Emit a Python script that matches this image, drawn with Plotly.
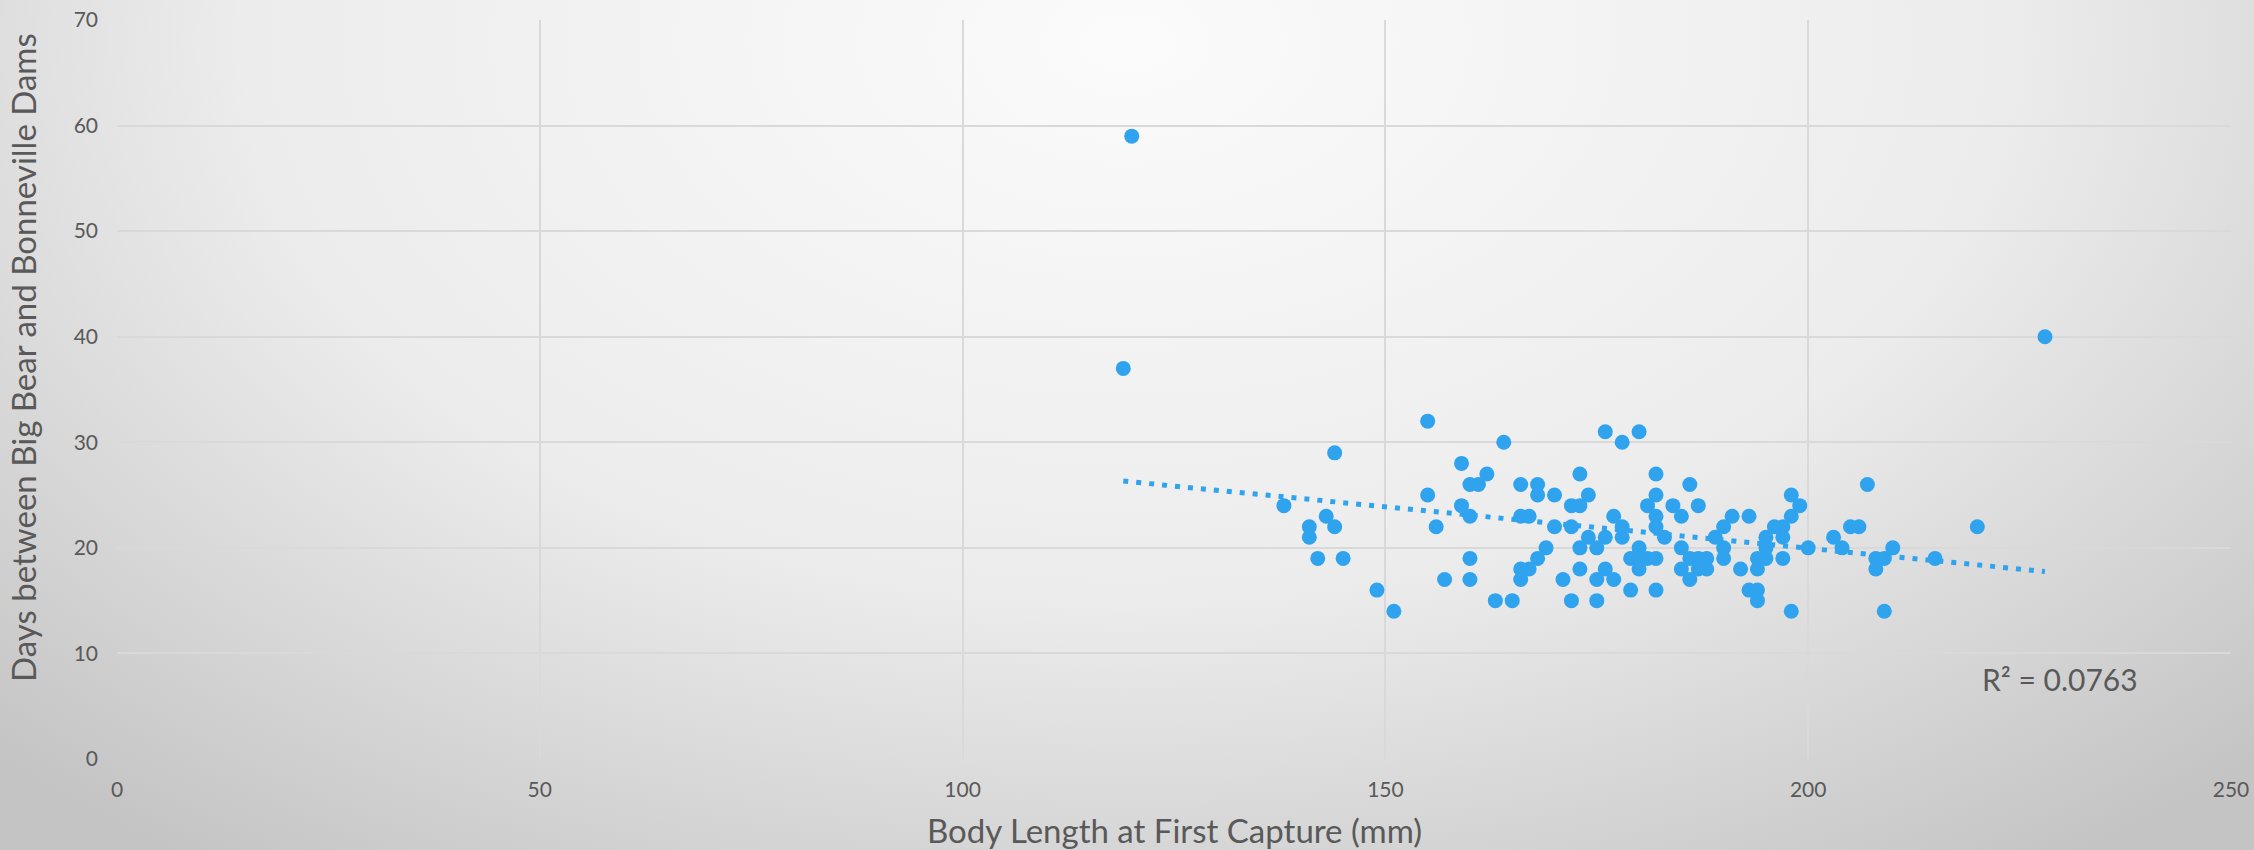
import base64
import numpy as np
import plotly.graph_objects as go

# Body length at first capture (mm)
body_length = [
    120, 119, 228,
    155, 164, 144, 159, 162, 160, 161, 166, 168, 168, 155, 138, 159, 160, 166, 167,
    143, 141, 141, 144, 156, 142, 145, 149, 151, 160, 157, 160, 163, 165, 169, 168,
    166, 167, 166,
    176, 178, 180, 173, 182, 186, 198, 170, 174, 172, 173, 181, 182, 184, 187, 199,
    177, 182, 185, 191, 193, 198, 170, 172, 178, 182, 190, 196, 197, 174, 176, 178,
    183, 189, 195, 197, 203, 173, 175, 180, 185, 190, 195, 200, 179, 180, 181, 182,
    186, 187, 188, 190, 194, 195, 197, 173, 176, 180, 185, 187, 188, 192, 194, 171,
    175, 177, 186, 179, 182, 193, 194, 172, 175, 194, 198,
    207, 205, 206, 220, 204, 210, 208, 209, 215, 208, 209,
]
# Days between Big Bear and Bonneville Dams
travel_days = [
    59, 37, 40,
    32, 30, 29, 28, 27, 26, 26, 26, 26, 25, 25, 24, 24, 23, 23, 23,
    23, 22, 21, 22, 22, 19, 19, 16, 14, 19, 17, 17, 15, 15, 20, 19,
    18, 18, 17,
    31, 30, 31, 27, 27, 26, 25, 25, 25, 24, 24, 24, 25, 24, 24, 24,
    23, 23, 23, 23, 23, 23, 22, 22, 22, 22, 22, 22, 22, 21, 21, 21,
    21, 21, 21, 21, 21, 20, 20, 20, 20, 20, 20, 20, 19, 19, 19, 19,
    19, 19, 19, 19, 19, 19, 19, 18, 18, 18, 18, 18, 18, 18, 18, 17,
    17, 17, 17, 16, 16, 16, 16, 15, 15, 15, 14,
    26, 22, 22, 22, 20, 20, 19, 19, 19, 18, 14,
]

x_title = "Body Length at First Capture (mm)"
y_title = "Days between Big Bear and Bonneville Dams"
r2_label = "R² = 0.0763"

x = np.array(body_length, dtype=float)
y = np.array(travel_days, dtype=float)
slope, intercept = np.polyfit(x, y, 1)
tx = np.array([x.min(), x.max()])
ty = slope * tx + intercept

W, H = 2254, 850
ml, mr, mt, mb = 117, 23, 20, 91
pw, ph = W - ml - mr, H - mt - mb

svg = f'''<svg xmlns="http://www.w3.org/2000/svg" width="{W}" height="{H}" viewBox="0 0 {W} {H}" preserveAspectRatio="none">
<defs><radialGradient id="g" cx="0.5" cy="0.05" r="0.95" gradientTransform="translate(0.5 0.05) scale(0.75 1.25) translate(-0.5 -0.05)">
<stop offset="0" stop-color="#fbfbfb"/><stop offset="0.55" stop-color="#ececec"/><stop offset="1" stop-color="#c4c4c4"/></radialGradient></defs>
<rect width="{W}" height="{H}" fill="url(#g)"/></svg>'''
src = "data:image/svg+xml;base64," + base64.b64encode(svg.encode()).decode()

font = "Lato, 'Open Sans', sans-serif"
grey = "#595959"
fig = go.Figure()
fig.add_trace(go.Scatter(
    x=body_length, y=travel_days, mode="markers",
    marker=dict(size=15, color="#2fa3ee", line=dict(width=0)),
    showlegend=False, cliponaxis=False,
))
fig.add_trace(go.Scatter(
    x=tx, y=ty, mode="lines",
    line=dict(color="#2fa3ee", width=5, dash="5px,8px"),
    showlegend=False,
))
fig.add_annotation(x=229.8, y=7.6, text=r2_label, showarrow=False,
                   font=dict(size=30, color=grey, family=font))
fig.add_annotation(xref="paper", yref="paper", x=0.5, y=-0.0961, text=x_title,
                   showarrow=False, xanchor="center", yanchor="middle",
                   font=dict(size=33, color=grey, family=font))
fig.add_annotation(xref="paper", yref="paper", x=-0.0445, y=0.544, text=y_title,
                   showarrow=False, xanchor="center", yanchor="middle", textangle=-90,
                   font=dict(size=33, color=grey, family=font))
fig.add_layout_image(dict(source=src, xref="paper", yref="paper",
                          x=-ml / pw, y=1 + mt / ph, sizex=W / pw, sizey=H / ph,
                          sizing="stretch", layer="below", xanchor="left", yanchor="top"))
fig.update_layout(
    width=W, height=H,
    margin=dict(l=ml, r=mr, t=mt, b=mb),
    paper_bgcolor="#e2e2e2", plot_bgcolor="rgba(0,0,0,0)",
    font=dict(family=font, color=grey),
)
fig.update_xaxes(range=[0, 250], dtick=50, showgrid=True, gridcolor="#d9d9d9", gridwidth=2,
                 zeroline=False, showline=False, ticks="", automargin=False,
                 ticklabelstandoff=16, tickfont=dict(size=21, color=grey))
fig.update_yaxes(range=[0, 70], dtick=10, showgrid=True, gridcolor="#d9d9d9", gridwidth=2,
                 zeroline=False, showline=False, ticks="", automargin=False,
                 ticklabelstandoff=18, tickfont=dict(size=21, color=grey))
fig.write_html("out.html", config={"displayModeBar": False},
               post_script="document.body.style.margin='0';document.body.style.overflow='hidden';")
